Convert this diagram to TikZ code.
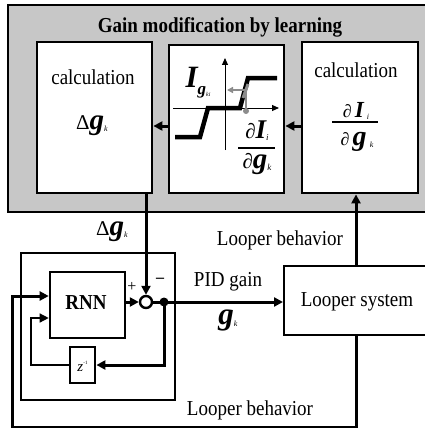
\documentclass[tikz,border=0pt]{standalone}
\usepackage{fontspec}
\setmainfont{Liberation Serif}
\usetikzlibrary{arrows.meta}
\newcommand{\BI}[2]{{\fontsize{#1}{#1}\selectfont\bfseries\itshape #2}}
\newcommand{\SUBS}[2]{\raisebox{-2pt}{\fontsize{#1}{#1}\selectfont\itshape #2}}
\newcommand{\DPART}[1]{{\fontsize{#1}{#1}\selectfont ∂}}
\newcommand{\TALL}[1]{\scalebox{1}[1.12]{#1}}
\begin{document}
\begin{tikzpicture}[x=1pt,y=-1pt,
  box/.style={draw, line width=2.8pt, fill=white, inner sep=0pt},
  arr/.style={line width=3pt, -{Triangle[length=9pt,width=9pt]}},
  txt/.style={font=\fontsize{19}{21}\selectfont, inner sep=0pt},
  ]
\clip (0,0) rectangle (425,428);
\fill[white] (0,0) rectangle (425,428);
% learning panel
\draw[line width=2.8pt, fill=black!22] (8,5) rectangle (440,212);
\node[txt, font=\fontsize{19}{21}\selectfont\bfseries] (title) at (220,27) {\TALL{Gain modification by learning}};
% boxes
\node[box, minimum width=115pt, minimum height=151pt] (leftbox) at (94.5,117.5) {};
\node[box, minimum width=115pt, minimum height=148pt] (midbox) at (226.5,119) {};
\node[box, minimum width=116pt, minimum height=151pt] (rightbox) at (360,117.5) {};
% left box text
\node[txt] (lcalc) at (93,77) {\TALL{calculation}};
\node[txt] (ldg) at (92,126) {{\fontsize{21}{21}\selectfont Δ}\BI{29}{g}\SUBS{8}{k}};
% right box text
\node[txt] (rcalc) at (356,70) {\TALL{calculation}};
\node[txt] (rnum) at (356,111) {\DPART{18}\,\BI{23}{I}\,\SUBS{8}{i}};
\draw[line width=1.2pt] (332,122) -- (378,122);
\node[txt] (rden) at (357,142) {\DPART{18}\,\BI{28}{g}\,\SUBS{8}{k}};
% middle box plot
\draw[line width=1pt, -{Triangle[length=7pt,width=6pt]}] (225,150) -- (225,58);
\draw[line width=1pt, -{Triangle[length=7pt,width=6pt]}] (173,108) -- (279,108);
\draw[line width=4.5pt] (175,137) -- (200,137) -- (208,108) -- (240,108) -- (248,78) -- (277,78);
\draw[black!45, line width=3pt] (243,98) -- (248,84);
\draw[black!45, line width=2pt] (246,90) -- (246,110);
\fill[black!45] (246,111) circle (3pt);
\draw[black!45, line width=2pt, -{Triangle[length=6pt,width=6pt]}] (246,90) -- (227,90);
\node[txt] (ig) at (198,83) {\BI{31}{I}\raisebox{-7pt}{\BI{17}{g}\raisebox{-2pt}{\fontsize{6}{6}\selectfont\itshape ki}}};
\node[txt] (mnum) at (257,131) {\DPART{21}\BI{27}{I}\SUBS{9}{i}};
\draw[line width=1.2pt] (238,148) -- (275,148);
\node[txt] (mden) at (257,164) {\DPART{21}\BI{29}{g}\SUBS{9}{k}};
% inter-box arrows
\coordinate (ay) at (0,126);
\draw[arr] (rightbox.west |- ay) -- (midbox.east |- ay);
\draw[arr] (midbox.west |- ay) -- (leftbox.east |- ay);
% controller
\node[box, fill=none, line width=2.6pt, minimum width=154pt, minimum height=147pt] (ctrl) at (98,326.5) {};
\node[box, line width=2.6pt, minimum width=75pt, minimum height=66pt] (rnn) at (87.5,305) {};
\node[txt, font=\fontsize{19}{21}\selectfont\bfseries] (rnnt) at (86,303) {\TALL{RNN}};
\node[draw, circle, line width=2.4pt, fill=white, minimum size=12pt, inner sep=0pt] (sum) at (146,302) {};
\node[circle, fill=black, minimum size=9pt, inner sep=0pt] (dot) at (164,302) {};
\node[box, line width=2.8pt, minimum width=25pt, minimum height=36pt] (zbox) at (82.5,365) {};
\node[txt] (zt) at (82.5,366) {{\fontsize{15}{15}\selectfont\itshape z}\raisebox{7pt}{\fontsize{5}{5}\selectfont -1}};
\node[txt] (plus) at (132,287) {{\fontsize{16}{16}\selectfont +}};
\node[txt] (minus) at (160,280) {{\fontsize{16}{16}\selectfont\bfseries –}};
% looper system
\node[draw, line width=2pt, fill=white, minimum width=146pt, minimum height=69pt, inner sep=0pt] (looper) at (357,300.5) {};
\node[txt] (lst) at (357,302) {\TALL{Looper system}};
% connectors
\coordinate (rx) at (356,0);
\draw[arr] (leftbox.south -| sum) -- (sum.north);
\draw[arr] (looper.north -| rx) -- (rightbox.south -| rx);
\draw[arr] (rnn.east |- sum) -- (sum.west);
\draw[arr] (sum.east) -- (looper.west |- sum);
\draw[arr] (dot.center) |- (zbox.east);
\coordinate (fbz) at (31,318);
\draw[line width=1.4pt, -{Triangle[length=9pt,width=9pt]}] (zbox.west) -| (fbz) -- (rnn.west |- fbz);
\coordinate (fbo) at (12,427);
\coordinate (rin) at (0,296);
\draw[arr] (looper.south -| rx) |- (fbo) |- (rnn.west |- rin);
% labels
\node[txt] (dglab) at (112,232) {{\fontsize{21}{21}\selectfont Δ}\BI{29}{g}\SUBS{8}{k}};
\node[txt] (lb1) at (280,240) {\TALL{Looper behavior}};
\node[txt] (pid) at (228,282) {\TALL{PID gain}};
\node[txt] (gk) at (228,320) {\BI{31}{g}\SUBS{8}{k}};
\node[txt] (lb2) at (250,410) {\TALL{Looper behavior}};
\end{tikzpicture}
\end{document}
